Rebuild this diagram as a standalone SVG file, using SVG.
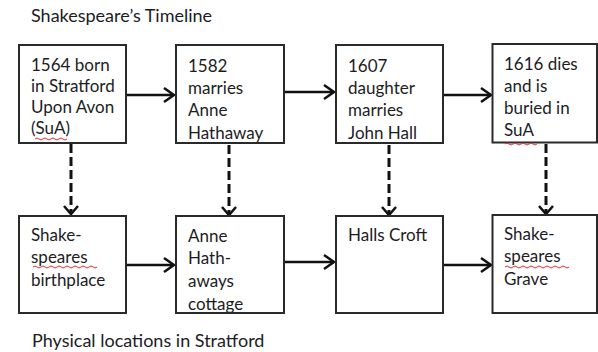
<svg xmlns="http://www.w3.org/2000/svg" width="598" height="352" viewBox="0 0 598 352">
<style>
.bg{fill:#ffffff}
.box{fill:#ffffff;stroke:#2a2a2a;stroke-width:2}
.t{font-family:Lato,"Liberation Sans",sans-serif;font-size:17px;fill:#1c1c24}
.cap{font-family:Lato,"Liberation Sans",sans-serif;font-size:18px;fill:#1c1c24}
.solid{fill:none;stroke:#111;stroke-width:2.5}
.dash{fill:none;stroke:#111;stroke-width:3;stroke-dasharray:9 4}
.sq{fill:none;stroke:#e03030;stroke-width:1}
</style>
<defs>
<marker id="ah" markerUnits="userSpaceOnUse" markerWidth="16" markerHeight="18" viewBox="-12 -9 14 18" refX="0" refY="0" orient="auto">
<path d="M-10,-7 L0,0 L-10,7" fill="none" stroke="#111" stroke-width="2.5"/>
</marker>
<clipPath id="c2"><rect x="176" y="45" width="108" height="98"/></clipPath>
<clipPath id="c3"><rect x="336" y="45" width="107" height="98"/></clipPath>
<clipPath id="c6"><rect x="176" y="216" width="108" height="97"/></clipPath>
</defs>
<rect class="bg" width="598" height="352"/>
<text class="cap" x="31" y="22">Shakespeare’s Timeline</text>
<text class="cap" x="32" y="347">Physical locations in Stratford</text>

<g id="connectors">
<line class="solid" x1="127" y1="95" x2="174" y2="95" marker-end="url(#ah)"/>
<line class="solid" x1="285" y1="92" x2="334" y2="92" marker-end="url(#ah)"/>
<line class="solid" x1="444" y1="95" x2="491" y2="95" marker-end="url(#ah)"/>
<line class="solid" x1="127" y1="265" x2="174" y2="265" marker-end="url(#ah)"/>
<line class="solid" x1="285" y1="262" x2="334" y2="262" marker-end="url(#ah)"/>
<line class="solid" x1="444" y1="265" x2="491" y2="265" marker-end="url(#ah)"/>
<line class="dash" x1="71" y1="144" x2="71" y2="212"/>
<line class="dash" x1="229" y1="145" x2="229" y2="213"/>
<line class="dash" x1="389" y1="145" x2="389" y2="213"/>
<line class="dash" x1="546" y1="144" x2="546" y2="212"/>
<path class="solid" d="M64,206 L71,214 L78,206 M222,207 L229,215 L236,207 M382,207 L389,215 L396,207 M539,206 L546,214 L553,206"/>
</g>

<g id="born">
<rect class="box" x="19" y="45" width="107" height="98"/>
<text class="t" x="31" y="71">1564 born</text>
<text class="t" x="31" y="92">in Stratford</text>
<text class="t" x="31" y="113">Upon Avon</text>
<text class="t" x="31" y="134">(SuA)</text>
<path class="sq" d="M35,139 q2,-2 4,0 t4,0 t4,0 t4,0 t4,0 t4,0 t4,0 t4,0"/>
</g>
<g id="marries">
<rect class="box" x="176" y="45" width="108" height="98"/>
<g clip-path="url(#c2)">
<text class="t" x="188" y="72">1582</text>
<text class="t" x="188" y="94">marries</text>
<text class="t" x="188" y="116">Anne</text>
<text class="t" x="188" y="139">Hathaway</text>
</g>
<rect x="176" y="45" width="108" height="98" fill="none" stroke="#2a2a2a" stroke-width="2"/>
</g>
<g id="daughter">
<rect class="box" x="336" y="45" width="107" height="98"/>
<g clip-path="url(#c3)">
<text class="t" x="348" y="72">1607</text>
<text class="t" x="348" y="94">daughter</text>
<text class="t" x="348" y="116">marries</text>
<text class="t" x="348" y="139">John Hall</text>
</g>
<rect x="336" y="45" width="107" height="98" fill="none" stroke="#2a2a2a" stroke-width="2"/>
</g>
<g id="dies">
<rect class="box" x="492.5" y="44" width="104.5" height="98.5"/>
<text class="t" x="504" y="70">1616 dies</text>
<text class="t" x="504" y="92">and is</text>
<text class="t" x="504" y="114">buried in</text>
<text class="t" x="504" y="136">SuA</text>
<path class="sq" d="M505,144 q2,-2 4,0 t4,0 t4,0 t4,0 t4,0 t4,0 t4,0 t4,0"/>
</g>

<g id="birthplace">
<rect class="box" x="19" y="216" width="107" height="97"/>
<text class="t" x="31" y="241">Shake-</text>
<text class="t" x="31" y="263">speares</text>
<text class="t" x="31" y="286">birthplace</text>
<path class="sq" d="M33,267 q2,-2 4,0 t4,0 t4,0 t4,0 t4,0 t4,0 t4,0 t4,0 t4,0 t4,0 t4,0 t4,0 t4,0 t4,0 t4,0 t4,0"/>
</g>
<g id="cottage">
<rect class="box" x="176" y="216" width="108" height="97"/>
<g clip-path="url(#c6)">
<text class="t" x="188" y="242">Anne</text>
<text class="t" x="188" y="264">Hath-</text>
<text class="t" x="188" y="287">aways</text>
<text class="t" x="188" y="310">cottage</text>
</g>
<rect x="176" y="216" width="108" height="97" fill="none" stroke="#2a2a2a" stroke-width="2"/>
</g>
<g id="hallscroft">
<rect class="box" x="336" y="216" width="107" height="97"/>
<text class="t" x="348" y="241">Halls Croft</text>
</g>
<g id="grave">
<rect class="box" x="492.5" y="215" width="104.5" height="98"/>
<text class="t" x="504" y="240">Shake-</text>
<text class="t" x="504" y="262">speares</text>
<text class="t" x="504" y="285">Grave</text>
<path class="sq" d="M505,267 q2,-2 4,0 t4,0 t4,0 t4,0 t4,0 t4,0 t4,0 t4,0 t4,0 t4,0 t4,0 t4,0 t4,0 t4,0 t4,0 t4,0"/>
</g>
</svg>
